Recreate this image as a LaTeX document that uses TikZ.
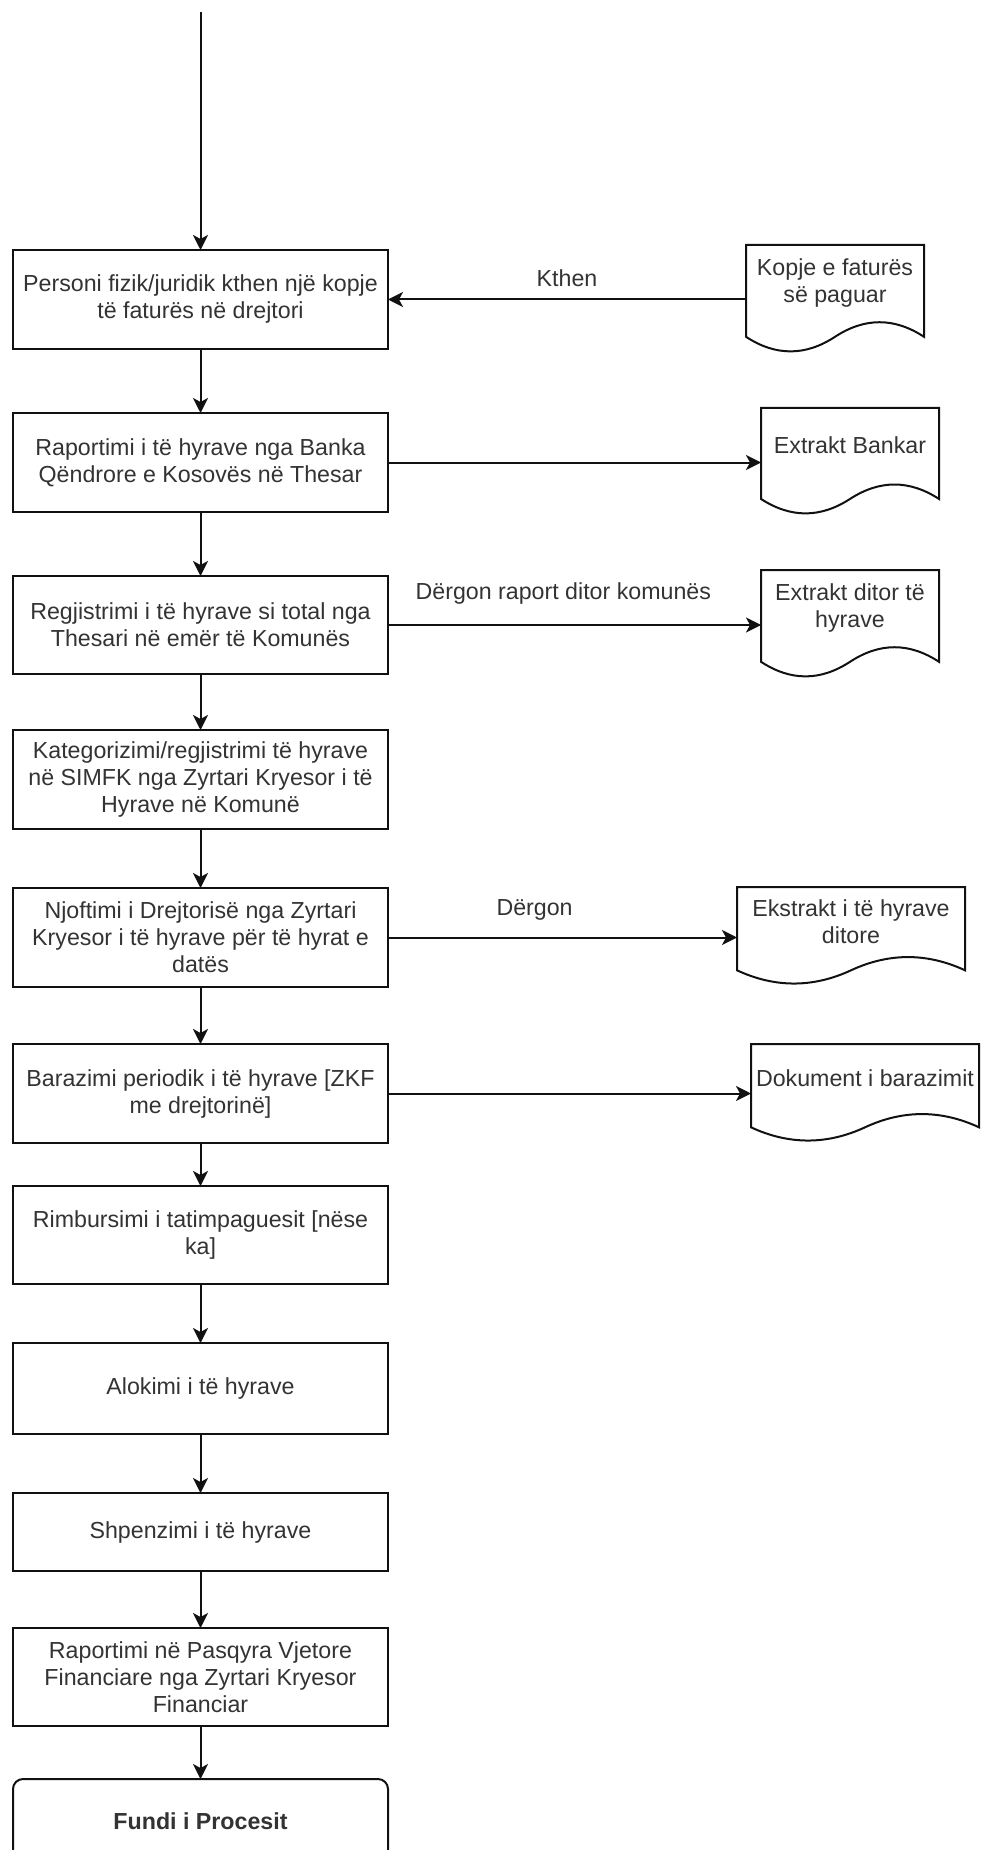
\documentclass[tikz,border=0pt]{standalone}
\usepackage{fontspec}
\setmainfont{Liberation Sans}
\usepackage{tikz}
\usetikzlibrary{arrows.meta,positioning,calc}
\definecolor{FlowLine}{HTML}{111111}
\definecolor{FlowText}{HTML}{333333}
\newcommand{\flowfont}{\fontsize{11.6pt}{13.5pt}\selectfont}
\tikzset{
  stepnode/.style={draw=FlowLine,line width=1pt,fill=white,minimum width=187.5pt,minimum height=49.5pt,align=center,text=FlowText,inner sep=2pt,outer sep=0pt},
  endnode/.style={stepnode,rounded corners=5pt,font=\flowfont\bfseries},
  docnode/.style={align=center,text=FlowText,inner sep=1pt,outer sep=0pt,anchor=north west},
  docline/.style={draw=FlowLine,line width=1pt},
  arrow/.style={-{Stealth[length=7.5pt,width=7.5pt,inset=2pt]},line width=1pt,draw=FlowLine},
  flowlabel/.style={text=FlowText,inner sep=1pt}
}

\begin{document}
\begin{tikzpicture}[x=0.5pt,y=-0.5pt,font=\flowfont]
\useasboundingbox (0,0) rectangle (980,1850);
\clip (0,0) rectangle (980,1850);
% main column
\coordinate (start) at (200.5,12);
\node[stepnode] (p1) at (200.5,299.5) {Personi fizik/juridik kthen një kopje\\të faturës në drejtori};
\node[stepnode,below=32pt of p1] (p2) {Raportimi i të hyrave nga Banka\\Qëndrore e Kosovës në Thesar};
\node[stepnode,below=32pt of p2,minimum height=49pt] (p3) {Regjistrimi i të hyrave si total nga\\Thesari në emër të Komunës};
\node[stepnode,below=28pt of p3] (p4) {Kategorizimi/regjistrimi të hyrave\\në SIMFK nga Zyrtari Kryesor i të\\Hyrave në Komunë};
\node[stepnode,below=29.5pt of p4] (p5) {Njoftimi i Drejtorisë nga Zyrtari\\Kryesor i të hyrave për të hyrat e\\datës};
\node[stepnode,below=28.5pt of p5] (p6) {Barazimi periodik i të hyrave [ZKF\\me drejtorinë]};
\node[stepnode,below=21.5pt of p6,minimum height=49pt] (p7) {Rimbursimi i tatimpaguesit [nëse\\ka]};
\node[stepnode,below=29.5pt of p7,minimum height=45.5pt] (p8) {Alokimi i të hyrave};
\node[stepnode,below=29.5pt of p8,minimum height=39pt] (p9) {Shpenzimi i të hyrave};
\node[stepnode,below=28.5pt of p9,minimum height=49pt] (p10) {Raportimi në Pasqyra Vjetore\\Financiare nga Zyrtari Kryesor\\Financiar};
\node[endnode,below=26.5pt of p10,minimum height=42pt] (p11) {Fundi i Procesit};
\draw[arrow] (start) -- (p1);
\foreach \a/\b in {p1/p2,p2/p3,p3/p4,p4/p5,p5/p6,p6/p7,p7/p8,p8/p9,p9/p10,p10/p11}
  \draw[arrow] (\a) -- (\b);
% documents
\node[docnode,minimum width=89pt,minimum height=37.8pt] (kopje) at (746,245) {Kopje e faturës\\së paguar};
\node[docnode,minimum width=89pt,minimum height=37.45pt] (bankar) at (761,408) {Extrakt Bankar};
\node[docnode,minimum width=89pt,minimum height=37.8pt] (ditor) at (761,570) {Extrakt ditor të\\hyrave};
\node[docnode,minimum width=114pt,minimum height=34.3pt] (ekstrakt) at (737,887) {Ekstrakt i të hyrave\\ditore};
\node[docnode,minimum width=114pt,minimum height=34.3pt] (dokument) at (751,1044) {Dokument i barazimit};
\foreach \d in {kopje,bankar,ditor,ekstrakt,dokument}
  \draw[docline] let \p1=(\d.south west), \p2=(\d.north east), \n1={\y2-\y1}, \n2={\x2-\x1} in
    (\x1,\y2) -- (\x2,\y2) -- (\x2,{\y1-0.2143*\n1})
    .. controls ({\x1+0.8333*\n2},{\y1+0.0429*\n1}) and ({\x1+0.6667*\n2},{\y1+0.0429*\n1}) .. ({\x1+0.5*\n2},{\y1-0.2143*\n1})
    .. controls ({\x1+0.3333*\n2},{\y1-0.4714*\n1}) and ({\x1+0.1667*\n2},{\y1-0.4714*\n1}) .. (\x1,{\y1-0.2143*\n1}) -- cycle;
% side flows
\draw[arrow] (kopje.west|-p1) -- node[flowlabel,yshift=10.5pt]{Kthen} (p1);
\draw[arrow] (p2) -- (bankar.west|-p2);
\draw[arrow] (p3) -- node[flowlabel,pos=0.47,yshift=16pt]{Dërgon raport ditor komunës} (ditor.west|-p3);
\draw[arrow] (p5) -- node[flowlabel,pos=0.42,yshift=14pt]{Dërgon} (ekstrakt.west|-p5);
\draw[arrow] (p6) -- (dokument.west|-p6);
\end{tikzpicture}
\end{document}
